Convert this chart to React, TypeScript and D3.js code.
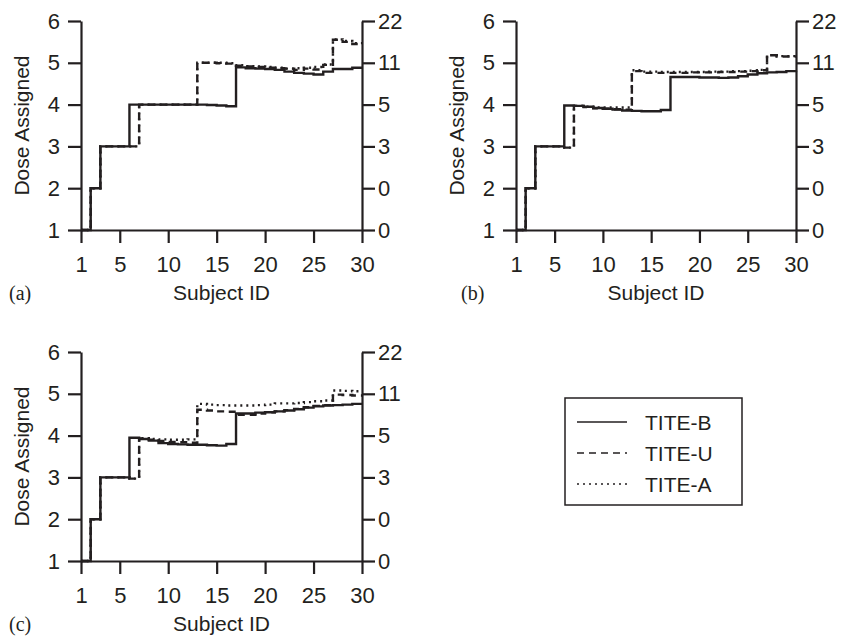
import React, { useEffect, useRef } from "react";
import * as d3 from "d3";

// subject ids on the x axis
const subjectIds = d3.range(1, 31);
const doseTicks = [1, 2, 3, 4, 5, 6];
const rightTickLabels = ["0", "0", "3", "5", "11", "22"];
const xTicks = [1, 5, 10, 15, 20, 25, 30];
const seriesNames = ["TITE-B", "TITE-U", "TITE-A"];

// panel (a)
const titeB_a = [1, 2, 3, 3, 3, 4, 4, 4, 4, 4, 4, 4, 4, 3.99, 3.98, 3.96, 4.89, 4.87, 4.86, 4.85, 4.83, 4.79, 4.76, 4.74, 4.72, 4.79, 4.85, 4.85, 4.88, 4.88];
const titeU_a = [1, 2, 3, 3, 3, 3, 4, 4, 4, 4, 4, 4, 5, 5, 4.99, 4.98, 4.93, 4.91, 4.9, 4.88, 4.87, 4.86, 4.83, 4.86, 4.84, 4.95, 5.55, 5.5, 5.45, 5.45];
const titeA_a = [1, 2, 3, 3, 3, 3, 4, 4, 4, 4, 4, 4, 5, 5, 5, 4.99, 4.94, 4.92, 4.91, 4.9, 4.88, 4.86, 4.87, 4.88, 4.9, 4.96, 5.56, 5.52, 5.47, 5.47];

// panel (b)
const titeB_b = [1, 2, 3, 3, 3, 3.98, 3.97, 3.95, 3.92, 3.9, 3.88, 3.86, 3.85, 3.84, 3.84, 3.87, 4.66, 4.66, 4.66, 4.65, 4.65, 4.64, 4.65, 4.68, 4.72, 4.75, 4.77, 4.78, 4.8, 4.81];
const titeU_b = [1, 2, 3, 3, 3, 2.97, 3.97, 3.94, 3.91, 3.9, 3.89, 3.88, 4.8, 4.76, 4.76, 4.76, 4.76, 4.76, 4.77, 4.77, 4.77, 4.78, 4.78, 4.79, 4.8, 4.82, 5.18, 5.15, 5.15, 5.15];
const titeA_b = [1, 2, 3, 3, 3, 2.97, 3.97, 3.95, 3.93, 3.93, 3.93, 3.93, 4.82, 4.79, 4.79, 4.78, 4.78, 4.78, 4.78, 4.78, 4.79, 4.79, 4.8, 4.8, 4.81, 4.83, 5.18, 5.16, 5.16, 5.16];

// panel (c)
const titeB_c = [1, 2, 3, 3, 3, 3.95, 3.92, 3.88, 3.82, 3.8, 3.79, 3.78, 3.78, 3.77, 3.76, 3.8, 4.53, 4.53, 4.55, 4.56, 4.58, 4.6, 4.63, 4.67, 4.7, 4.72, 4.73, 4.74, 4.76, 4.76];
const titeU_c = [1, 2, 3, 3, 3, 2.97, 3.93, 3.9, 3.87, 3.85, 3.84, 3.83, 4.62, 4.6, 4.58, 4.57, 4.5, 4.5, 4.53, 4.56, 4.58, 4.61, 4.64, 4.68, 4.71, 4.73, 4.98, 4.97, 4.96, 4.96];
const titeA_c = [1, 2, 3, 3, 3, 2.97, 3.94, 3.92, 3.91, 3.9, 3.9, 3.91, 4.76, 4.74, 4.73, 4.72, 4.72, 4.72, 4.73, 4.74, 4.77, 4.77, 4.78, 4.8, 4.82, 4.84, 5.08, 5.07, 5.06, 5.06];

const panels = [
  { tag: "(a)", series: [titeB_a, titeU_a, titeA_a], left: 81, right: 362, top: 21, bottom: 230, tagX: 9 },
  { tag: "(b)", series: [titeB_b, titeU_b, titeA_b], left: 516, right: 796, top: 21, bottom: 230, tagX: 461 },
  { tag: "(c)", series: [titeB_c, titeU_c, titeA_c], left: 81, right: 362, top: 352, bottom: 561, tagX: 9 },
];

const ink = "#231f20";
const font = "'Liberation Sans', Arial, sans-serif";
const dashes = [null, "7,5", "2,4"];

const App = () => {
  const svgRef = useRef<SVGSVGElement>(null);

  useEffect(() => {
    const svg = d3.select(svgRef.current);
    svg.selectAll("*").remove();

    panels.forEach((p) => {
      const x = d3.scaleLinear().domain([1, 30]).range([p.left, p.right]);
      const y = d3.scaleLinear().domain([1, 6]).range([p.bottom, p.top]);
      const g = svg.append("g");

      const styleAxis = (a: any) => {
        a.attr("font-family", font).attr("font-size", 22);
        a.selectAll("path").attr("stroke", ink).attr("stroke-width", 2.2);
        a.selectAll("line").attr("stroke", ink).attr("stroke-width", 2.2);
        a.selectAll("text").attr("fill", ink);
      };

      g.append("g")
        .attr("transform", `translate(${p.left},0)`)
        .call(d3.axisLeft(y).tickValues(doseTicks).tickFormat(d3.format("d")).tickSize(13).tickSizeOuter(0).tickPadding(8))
        .call(styleAxis);

      g.append("g")
        .attr("transform", `translate(${p.right},0)`)
        .call(
          d3.axisRight(y).tickValues(doseTicks)
            .tickFormat((d, i) => rightTickLabels[i])
            .tickSize(13).tickSizeOuter(0).tickPadding(3)
        )
        .call(styleAxis);

      g.append("g")
        .attr("transform", `translate(0,${p.bottom})`)
        .call(d3.axisBottom(x).tickValues(xTicks).tickFormat(d3.format("d")).tickSize(13).tickSizeOuter(0).tickPadding(13))
        .call(styleAxis);

      // lines: dotted, dashed, then solid on top
      const line = d3.line<number>()
        .x((d, i) => x(subjectIds[i]))
        .y((d) => y(d))
        .curve(d3.curveStepAfter);

      [2, 1, 0].forEach((k) => {
        g.append("path")
          .attr("d", line(p.series[k]))
          .attr("fill", "none")
          .attr("stroke", ink)
          .attr("stroke-width", 2.4)
          .attr("stroke-dasharray", dashes[k]);
      });

      // axis titles
      g.append("text")
        .attr("transform", `translate(${p.left - 60},${(p.top + p.bottom) / 2}) rotate(-90)`)
        .attr("text-anchor", "middle")
        .attr("dy", "0.36em")
        .attr("font-family", font)
        .attr("font-size", 21)
        .attr("fill", ink)
        .text("Dose Assigned");

      g.append("text")
        .attr("x", (p.left + p.right) / 2)
        .attr("y", p.bottom + 70)
        .attr("text-anchor", "middle")
        .attr("font-family", font)
        .attr("font-size", 21)
        .attr("fill", ink)
        .text("Subject ID");

      g.append("text")
        .attr("x", p.tagX)
        .attr("y", p.bottom + 70)
        .attr("font-family", "'Liberation Serif', 'Times New Roman', serif")
        .attr("font-size", 20)
        .attr("fill", ink)
        .text(p.tag);
    });

    // legend
    const lg = svg.append("g").attr("transform", "translate(565,398)");
    lg.append("rect")
      .attr("width", 177)
      .attr("height", 107)
      .attr("fill", "none")
      .attr("stroke", ink)
      .attr("stroke-width", 1.5);

    seriesNames.forEach((name, i) => {
      const cy = 24 + i * 31;
      lg.append("line")
        .attr("x1", 12)
        .attr("x2", 62)
        .attr("y1", cy)
        .attr("y2", cy)
        .attr("stroke", ink)
        .attr("stroke-width", 1.5)
        .attr("stroke-dasharray", dashes[i]);
      lg.append("text")
        .attr("x", 80)
        .attr("y", cy)
        .attr("dy", "0.36em")
        .attr("font-family", font)
        .attr("font-size", 21)
        .attr("fill", ink)
        .text(name);
    });
  }, []);

  return (
    <svg
      ref={svgRef}
      width={842}
      height={638}
      style={{ position: "absolute", left: 0, top: 0, background: "white" }}
    />
  );
};

export default App;
